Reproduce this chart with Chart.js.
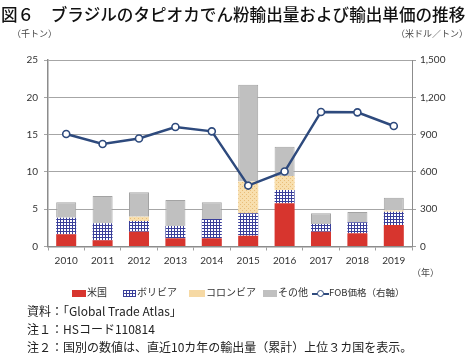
<!DOCTYPE html>
<html><head><meta charset="utf-8">
<script src="https://cdn.jsdelivr.net/npm/chart.js@4/dist/chart.umd.min.js"></script>
<style>
html,body{margin:0;padding:0;background:#fff;}
body{width:471px;height:355px;position:relative;overflow:hidden;font-family:"Noto Sans CJK JP",sans-serif;color:#222;}
#c{position:absolute;left:0;top:0;}
.t{position:absolute;white-space:nowrap;}
#title{left:1px;top:2px;font-size:16.6px;font-weight:500;letter-spacing:0px;color:#111;}
.ax{font-size:9px;color:#444;top:27px;}
#legend{left:0;top:285px;width:471px;font-size:10px;color:#333;}
.li{position:absolute;top:0;line-height:14px;}
.sw{display:inline-block;vertical-align:middle;height:7px;margin-right:1px;}
.note{left:27px;font-size:12px;color:#222;}
</style></head>
<body>
<canvas id="c" width="471" height="355"></canvas>
<div class="t" id="title">図６　ブラジルのタピオカでん粉輸出量および輸出単価の推移</div>
<div class="t ax" style="left:12px;">（千トン）</div>
<div class="t ax" style="left:396px;">（米ドル／トン）</div>
<div class="t" style="left:412px;top:266px;font-size:9px;color:#444;">（年）</div>
<div class="t" id="legend">
  <div class="li" style="left:72px;"><span class="sw" style="width:14px;background:#d7352e;"></span>米国</div>
  <div class="li" style="left:123px;"><span class="sw" style="width:13px;background-color:#fff;background-image:linear-gradient(#3a3f9a 1px,transparent 1px),linear-gradient(90deg,#3a3f9a 1px,transparent 1px);background-size:3px 3px;"></span>ボリビア</div>
  <div class="li" style="left:189px;"><span class="sw" style="width:16px;background:#f6d9a4;"></span>コロンビア</div>
  <div class="li" style="left:263px;"><span class="sw" style="width:14px;background:#c0c0c0;"></span>その他</div>
  <div class="li" style="left:312px;"><span style="display:inline-block;vertical-align:middle;position:relative;width:17px;height:7px;"><span style="position:absolute;left:0;top:3px;width:17px;height:2px;background:#2e4a7d;"></span><span style="position:absolute;left:5px;top:0;width:5px;height:5px;border:1.5px solid #2e4a7d;border-radius:50%;background:#fff;"></span></span><span style="font-size:9.5px;">FOB価格（右軸）</span></div>
</div>
<div class="t note" style="top:302px;">資料：「Global Trade Atlas」</div>
<div class="t note" style="top:320px;">注１：HSコード110814</div>
<div class="t note" style="top:338px;">注２：国別の数値は、直近10カ年の輸出量（累計）上位３カ国を表示。</div>
<script>
const years = ['2010','2011','2012','2013','2014','2015','2016','2017','2018','2019'];
const usa      = [1.64, 0.83, 1.99, 1.10, 1.10, 1.45, 5.80, 1.99, 1.77, 2.89];
const bolivia  = [2.23, 2.28, 1.43, 1.65, 2.59, 3.00, 1.78, 1.03, 1.48, 1.78];
const colombia = [0.00, 0.00, 0.58, 0.00, 0.00, 4.25, 1.88, 0.00, 0.00, 0.15];
const others   = [2.06, 3.67, 3.27, 3.49, 2.24, 12.98, 3.90, 1.43, 1.38, 1.73];
const fobPrice = [905, 824, 869, 961, 926, 490, 603, 1082, 1079, 969];
const leftTicksMax = 25, rightTicksMax = 1500;

function gridPattern(){
  const c = document.createElement('canvas'); c.width=3; c.height=3;
  const g = c.getContext('2d');
  g.fillStyle='#ffffff'; g.fillRect(0,0,3,3);
  g.fillStyle='#3a3f9a'; g.fillRect(0,0,3,1); g.fillRect(0,0,1,3);
  return g.createPattern(c,'repeat');
}
function dotPattern(){
  const c = document.createElement('canvas'); c.width=4; c.height=4;
  const g = c.getContext('2d');
  g.fillStyle='#f8dfae'; g.fillRect(0,0,4,4);
  g.fillStyle='#e9bd78'; g.fillRect(0,0,1,1); g.fillRect(2,2,1,1);
  return g.createPattern(c,'repeat');
}
const ctx = document.getElementById('c').getContext('2d');
const tickFont = {family:'Lato', size:10};
new Chart(ctx, {
  data: {
    labels: years,
    datasets: [
      {type:'line', label:'FOB価格（右軸）', data:fobPrice, yAxisID:'y1', order:0,
       borderColor:'#2e4a7d', borderWidth:2.5, pointRadius:3.5, pointBorderWidth:1.6,
       pointBackgroundColor:'#ffffff', pointBorderColor:'#2e4a7d', tension:0},
      {type:'bar', label:'米国', data:usa, yAxisID:'y', stack:'s', order:1, backgroundColor:'#d7352e', barPercentage:0.55, categoryPercentage:1},
      {type:'bar', label:'ボリビア', data:bolivia, yAxisID:'y', stack:'s', order:1, backgroundColor:gridPattern(), barPercentage:0.55, categoryPercentage:1},
      {type:'bar', label:'コロンビア', data:colombia, yAxisID:'y', stack:'s', order:1, backgroundColor:dotPattern(), barPercentage:0.55, categoryPercentage:1},
      {type:'bar', label:'その他', data:others, yAxisID:'y', stack:'s', order:1, backgroundColor:'#c0c0c0', borderColor:'#a3a3a3', borderWidth:1, barPercentage:0.55, categoryPercentage:1}
    ]
  },
  options: {
    responsive:false, animation:false, devicePixelRatio:1,
    layout:{padding:{left:0,right:0,top:60,bottom:88.5}},
    plugins:{legend:{display:false}, tooltip:{enabled:false}},
    scales:{
      x:{stacked:true, offset:true,
         grid:{display:true, drawOnChartArea:false, offset:true, tickLength:4, color:'#a0a0a0'},
         border:{color:'#8c8c8c', width:1.5},
         ticks:{font:tickFont, color:'#333', padding:4, maxRotation:0},
         afterFit:s=>{s.height=20;}},
      y:{stacked:true, position:'left', min:0, max:leftTicksMax,
         ticks:{stepSize:5, font:tickFont, color:'#333', padding:6},
         grid:{color:'#a6a6a6', lineWidth:1, tickLength:4},
         border:{color:'#8c8c8c', width:1.5},
         afterFit:s=>{s.width=48;}},
      y1:{position:'right', min:0, max:rightTicksMax,
         ticks:{stepSize:300, font:tickFont, color:'#333', padding:4,
                callback:v=>v.toLocaleString('en-US')},
         grid:{drawOnChartArea:false, tickLength:4, color:'#a0a0a0'},
         border:{color:'#8c8c8c', width:1},
         afterFit:s=>{s.width=59;}}
    }
  }
});
</script>
</body></html>
